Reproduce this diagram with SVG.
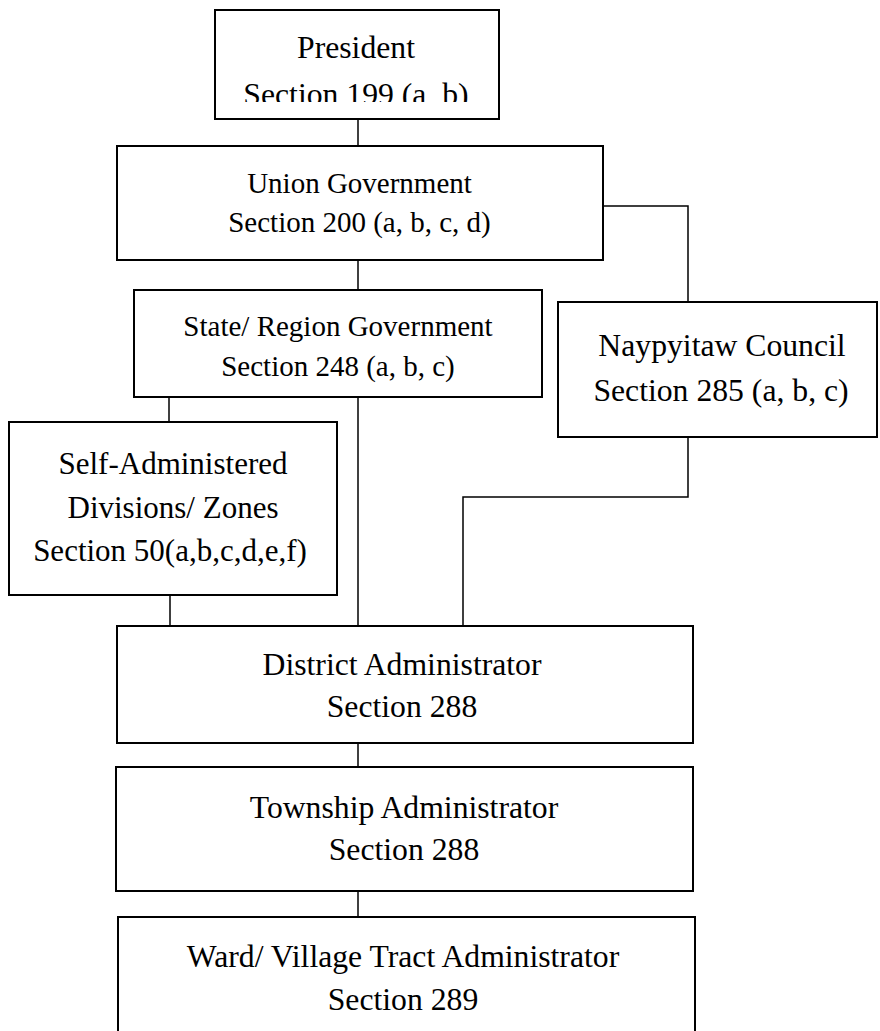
<svg xmlns="http://www.w3.org/2000/svg" width="880" height="1031" viewBox="0 0 880 1031">
<style>
.box{fill:#fff;stroke:#000;stroke-width:2}
.t{font-family:"Liberation Serif","Times New Roman",serif;fill:#000;text-anchor:middle}
.s29{font-size:29px}
.s31{font-size:31px}
.s32{font-size:31.7px}
.con{fill:none;stroke:#000;stroke-width:1.5}
</style>
<defs>
<clipPath id="pclip"><rect x="215" y="10" width="284" height="92"/></clipPath>
</defs>
<rect width="880" height="1031" fill="#fff"/>
<g id="connectors">
<line class="con" x1="358" y1="119" x2="358" y2="146"/>
<polyline class="con" points="603,206 688,206 688,302"/>
<line class="con" x1="358" y1="260" x2="358" y2="290"/>
<line class="con" x1="169" y1="397" x2="169" y2="422"/>
<line class="con" x1="358" y1="397" x2="358" y2="626"/>
<polyline class="con" points="688,437 688,497 463,497 463,626"/>
<line class="con" x1="170" y1="595" x2="170" y2="626"/>
<line class="con" x1="358" y1="743" x2="358" y2="767"/>
<line class="con" x1="358" y1="891" x2="358" y2="917"/>
</g>
<g id="president">
<rect class="box" x="215" y="10" width="284" height="109"/>
<g clip-path="url(#pclip)">
<text class="t s32" x="356" y="58">President</text>
<text class="t s32" x="356" y="105">Section 199 (a, b)</text>
</g>
</g>
<g id="union">
<rect class="box" x="117" y="146" width="486" height="114"/>
<text class="t s29" x="359.5" y="193">Union Government</text>
<text class="t s29" x="359.5" y="232">Section 200 (a, b, c, d)</text>
</g>
<g id="state">
<rect class="box" x="134" y="290" width="408" height="107"/>
<text class="t s29" x="338" y="336">State/ Region Government</text>
<text class="t s29" x="338" y="376">Section 248 (a, b, c)</text>
</g>
<g id="naypyitaw">
<rect class="box" x="558" y="302" width="319" height="135"/>
<text class="t s32" x="722" y="356">Naypyitaw Council</text>
<text class="t s32" x="721" y="401">Section 285 (a, b, c)</text>
</g>
<g id="self">
<rect class="box" x="9" y="422" width="328" height="173"/>
<text class="t s31" x="173" y="474">Self-Administered</text>
<text class="t s31" x="173" y="518">Divisions/ Zones</text>
<text class="t s31" x="170" y="561">Section 50(a,b,c,d,e,f)</text>
</g>
<g id="district">
<rect class="box" x="117" y="626" width="576" height="117"/>
<text class="t s32" x="402" y="675">District Administrator</text>
<text class="t s32" x="402" y="717">Section 288</text>
</g>
<g id="township">
<rect class="box" x="116" y="767" width="577" height="124"/>
<text class="t s32" x="404" y="818">Township Administrator</text>
<text class="t s32" x="404" y="860">Section 288</text>
</g>
<g id="ward">
<rect class="box" x="118" y="917" width="577" height="130"/>
<text class="t s32" x="403" y="967">Ward/ Village Tract Administrator</text>
<text class="t s32" x="403" y="1010">Section 289</text>
</g>
</svg>
